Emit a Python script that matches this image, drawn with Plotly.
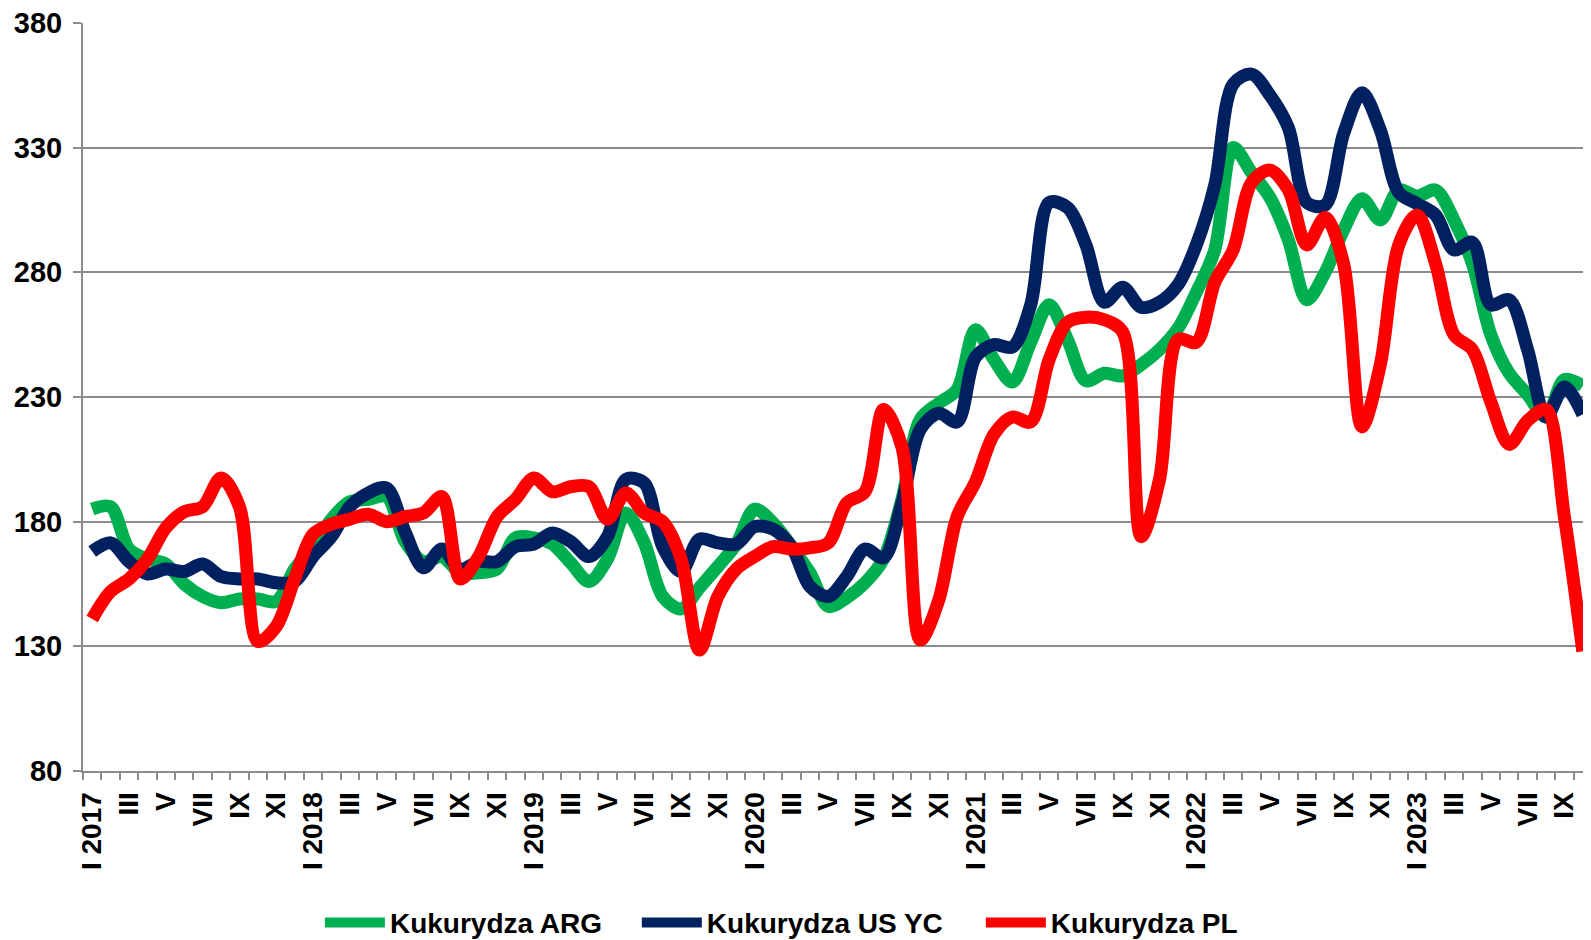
import plotly.graph_objects as go

# miesiące I 2017 – X 2023
roman = ["I", "II", "III", "IV", "V", "VI", "VII", "VIII", "IX", "X", "XI", "XII"]
years = [2017, 2018, 2019, 2020, 2021, 2022, 2023]
months = [f"{roman[m]} {y}" if m == 0 else roman[m] for y in years for m in range(12)][:82]

kukurydza_arg = [
    185, 186, 169, 165, 163, 155, 150, 147.5, 149, 149, 148, 161,
    170, 181, 188, 189, 190, 172, 164, 166, 159.5, 159.5, 161, 173.5,
    173.5, 171, 163.5, 156, 165, 183.5, 171.5, 150, 145, 153.5, 162, 171,
    185, 179.5, 170, 159.5, 146, 149.5, 155.5, 165, 189, 221, 227.5, 233,
    257, 245, 236, 252, 267, 253, 236.5, 239.5, 238.5, 243, 249, 257.5,
    272, 289, 330, 320, 310, 293, 269, 280, 297, 309.5, 301, 313,
    310.5, 313, 301, 283.5, 255, 239.5, 231, 222, 237, 234.5,
]

kukurydza_us_yc = [
    168, 171.5, 164, 159, 161, 160, 163, 158, 157, 157, 155.5, 156,
    166, 174, 186, 191.5, 193.5, 176, 161.5, 169, 161, 164, 164, 170,
    171, 175.5, 172, 166, 174, 197, 195.5, 170, 160, 173, 171.5, 171,
    178, 177, 170, 154, 150, 158, 169, 165.5, 187.5, 217, 223.5, 220,
    246, 251, 250, 267, 308, 306, 291, 268, 274, 266, 268, 275,
    291, 315, 355.5, 359.5, 351, 338, 308, 307, 335.5, 352, 337, 312,
    307.5, 303, 289, 292, 267, 269, 249, 222, 234, 223,
]

kukurydza_pl = [
    141, 152, 157, 165, 177.5, 184, 186, 197.5, 186, 132, 138, 157,
    175, 179, 181, 183, 180, 182, 183.5, 190, 157, 166, 182, 189,
    197.5, 192, 194, 194, 181, 191.5, 183.5, 180, 165, 128.5, 150, 161,
    166, 170, 169, 169.5, 171.5, 187.5, 192, 225, 210, 132.5, 148.5, 182,
    196, 215, 222, 220, 245, 260, 262, 261, 256, 174, 197, 253,
    252, 276, 289, 316, 321, 313, 291, 302, 283.5, 218, 243, 291,
    303, 283.5, 255, 249, 228, 211, 220.5, 225, 182, 128,
]

series = [
    ("Kukurydza ARG", kukurydza_arg, "#00B050", "legend", 0.157),
    ("Kukurydza US YC", kukurydza_us_yc, "#002060", "legend2", 0.367),
    ("Kukurydza PL", kukurydza_pl, "#FF0000", "legend3", 0.595),
]

x_idx = list(range(len(months)))
font_b = "Liberation Sans"
grid_col = "#8c8c8c"

fig = go.Figure()
legends = {}
for name, vals, col, leg, leg_x in series:
    fig.add_trace(go.Scatter(
        x=x_idx, y=vals, name=name, mode="lines", legend=leg,
        line=dict(color=col, width=13, shape="spline", smoothing=0.9),
        hoverinfo="skip"
    ))
    # one legend per series, so each entry sits where the original puts it
    legends[leg] = dict(
        orientation="h", x=leg_x, xanchor="left", y=-0.203, yanchor="middle",
        font=dict(family=font_b, size=28, color="#000000", weight="bold"),
        itemwidth=60, bgcolor="rgba(0,0,0,0)",
    )

# page body keeps its 8px margin; the original chart is cut at the right edge
fig.update_layout(
    width=1584, height=940,
    paper_bgcolor="#ffffff", plot_bgcolor="#ffffff",
    margin=dict(l=75, r=0, t=15, b=177, autoexpand=False),
    showlegend=True,
    **legends,
    xaxis=dict(
        range=[-0.5, len(months) - 0.5],
        tickmode="array", tickvals=x_idx[::2], ticktext=months[::2],
        tickangle=-90, ticks="", ticklabelstandoff=8,
        tickfont=dict(family=font_b, size=28, color="#000000", weight="bold"),
        showgrid=False, zeroline=False,
        showline=True, linecolor=grid_col, linewidth=2,
        minor=dict(tick0=-0.5, dtick=1, ticks="outside", ticklen=7,
                   tickcolor=grid_col, tickwidth=1.5, showgrid=False),
    ),
    yaxis=dict(
        range=[80, 380], tick0=80, dtick=50,
        ticks="outside", ticklen=8, tickcolor=grid_col, tickwidth=2,
        tickfont=dict(family=font_b, size=29, color="#000000", weight="bold"),
        showgrid=True, gridcolor=grid_col, gridwidth=2,
        zeroline=False, showline=True, linecolor=grid_col, linewidth=2,
        ticklabelstandoff=5, ticklabeloverflow="allow",
    ),
)

fig.write_html("out.html")
